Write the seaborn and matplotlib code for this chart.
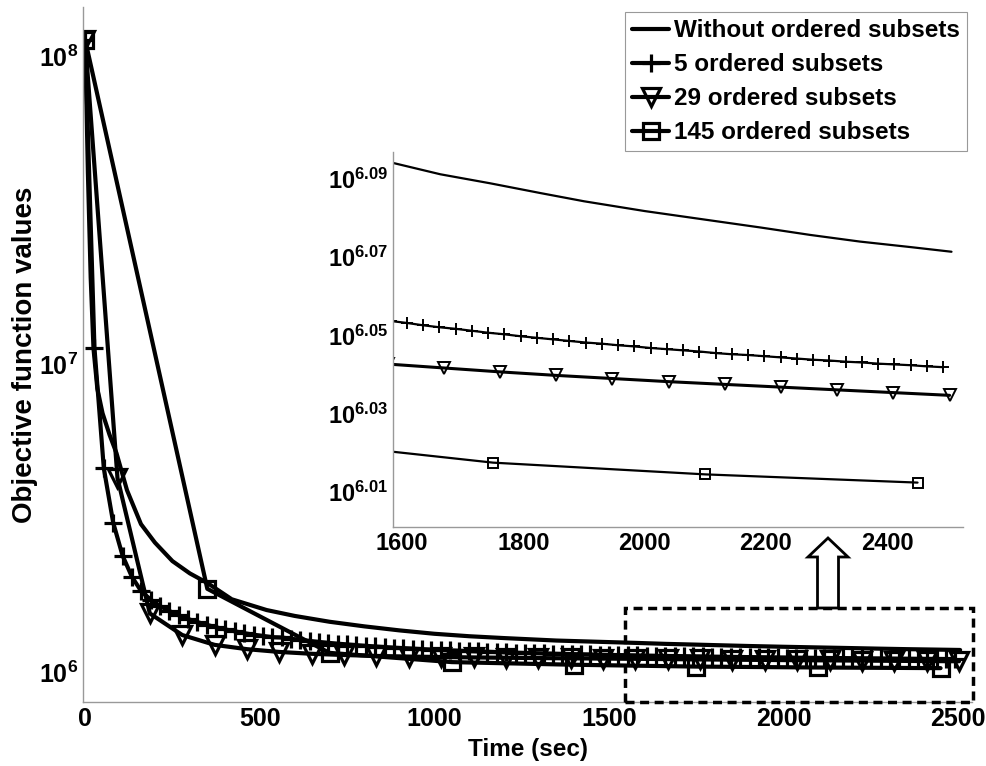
import numpy as np
import matplotlib
matplotlib.use("Agg")
import matplotlib.pyplot as plt
import seaborn as sns
from matplotlib.patches import Rectangle, Polygon
from matplotlib.ticker import FixedLocator, FuncFormatter, LogLocator, NullFormatter, NullLocator

# objective values are kept as log10 exponents

# without ordered subsets: smooth curve
t_none = [0, 8, 16, 24, 35, 50, 70, 90, 120, 160, 200, 250, 300, 350, 420, 520,
          600, 700, 800, 900, 1000, 1100, 1200, 1350, 1585, 1663, 1745, 1828,
          1900, 2000, 2100, 2191, 2273, 2355, 2438, 2506]
log_none = [8.053, 7.62, 7.28, 7.05, 6.92, 6.84, 6.77, 6.71, 6.59, 6.48, 6.42,
            6.36, 6.32, 6.289, 6.236, 6.201, 6.182, 6.163, 6.148, 6.135, 6.124,
            6.116, 6.110, 6.102, 6.0941, 6.0912, 6.0889, 6.0864, 6.0843, 6.0818,
            6.0796, 6.0776, 6.0757, 6.0740, 6.0726, 6.0714]

# 5 ordered subsets: one marker per iteration
sec_per_iter_5 = 26.8
log_5 = [8.053, 7.052, 6.661, 6.485, 6.378, 6.309, 6.262, 6.235, 6.214, 6.198,
         6.184, 6.172, 6.162, 6.153, 6.145, 6.138, 6.132, 6.126, 6.121, 6.117,
         6.113, 6.1119, 6.1078, 6.1041, 6.1007, 6.0975, 6.0945, 6.0918, 6.0894,
         6.0870, 6.0848, 6.0828, 6.0808, 6.0791, 6.0774, 6.0758, 6.0742, 6.0728,
         6.0715, 6.0702, 6.0690, 6.0678, 6.0667, 6.0657, 6.0647, 6.0637, 6.0628,
         6.0619, 6.0611, 6.0603, 6.0595, 6.0587, 6.0580, 6.0573, 6.0567, 6.0560,
         6.0554, 6.0548, 6.0543, 6.0537, 6.0532, 6.0526, 6.0521, 6.0517, 6.0512,
         6.0507, 6.0503, 6.0498, 6.0494, 6.0490, 6.0486, 6.0482, 6.0479, 6.0475,
         6.0472, 6.0468, 6.0465, 6.0462, 6.0459, 6.0455, 6.0452, 6.0450, 6.0447,
         6.0444, 6.0441, 6.0438, 6.0436, 6.0433, 6.0431, 6.0428, 6.0426, 6.0424,
         6.0421, 6.0419]

# 29 ordered subsets
sec_per_iter_29 = 92.7
log_29 = [8.053, 6.63, 6.19, 6.12, 6.088, 6.074, 6.065, 6.059, 6.055, 6.052,
          6.0500, 6.0485, 6.0472, 6.0461, 6.0451, 6.0442, 6.0434, 6.0427, 6.0417,
          6.0407, 6.0398, 6.0390, 6.0382, 6.0375, 6.0368, 6.0361, 6.0354, 6.0347]

# 145 ordered subsets
sec_per_iter_145 = 350.0
log_145 = [8.053, 6.27, 6.062, 6.032, 6.0234, 6.0175, 6.0145, 6.0124]

labels = ["Without ordered subsets", "5 ordered subsets",
          "29 ordered subsets", "145 ordered subsets"]


def series(log_vals, step=None, times=None):
    y = 10 ** np.array(log_vals)
    x = np.array(times) if times is not None else np.arange(len(y)) * step
    return x, y


data = [series(log_none, times=t_none),
        series(log_5, step=sec_per_iter_5),
        series(log_29, step=sec_per_iter_29),
        series(log_145, step=sec_per_iter_145)]
markers = [None, "+", "v", "s"]

sns.set_style("white")
plt.rcParams['font.family'] = ['Liberation Sans', 'DejaVu Sans']
plt.rcParams['font.weight'] = 'bold'
plt.rcParams['text.color'] = 'black'
plt.rcParams['axes.labelcolor'] = 'black'
plt.rcParams['xtick.color'] = 'black'
plt.rcParams['ytick.color'] = 'black'
plt.rcParams['mathtext.fontset'] = 'custom'
plt.rcParams['mathtext.rm'] = 'Liberation Sans:bold'
plt.rcParams['mathtext.bf'] = 'Liberation Sans:bold'
plt.rcParams['mathtext.default'] = 'bf'

fig = plt.figure(figsize=(9.87, 7.66), dpi=100)
ax = fig.add_axes([0.0841, 0.0836, 0.9007, 0.9073])
ins = fig.add_axes([0.3982, 0.312, 0.5775, 0.4896])


def draw(a, lw, ms, mew):
    for (x, y), m, lab in zip(data, markers, labels):
        kw = dict(x=x, y=y, ax=a, color="k", linewidth=lw, legend=False,
                  estimator=None, sort=False, label=lab)
        if m is not None:
            size = ms if m != "s" else ms * 0.85
            kw.update(marker=m, markersize=size, markeredgewidth=mew,
                      markeredgecolor="k", markerfacecolor="none")
        sns.lineplot(**kw)


draw(ax, 3.0, 13, 2.3)
draw(ins, 1.6, 8, 1.4)
# the 29 subsets curve is drawn a bit heavier in the zoom
ins.get_lines()[2].set_linewidth(2.2)


def style(a, size):
    for s in ["top", "right"]:
        a.spines[s].set_visible(False)
    for s in ["left", "bottom"]:
        a.spines[s].set_color("0.6")
        a.spines[s].set_linewidth(1.0)
    a.tick_params(which="both", direction="in", color="0.55", labelsize=size,
                  labelcolor="k", width=0.8)
    a.tick_params(which="major", length=7)
    a.tick_params(which="minor", length=4)
    a.set_xlabel("")
    a.set_ylabel("")


# main axes
ax.set_yscale("log")
ax.set_xlim(-6, 2540)
ax.set_ylim(10 ** 5.9026, 10 ** 8.159)
ax.set_xticks([0, 500, 1000, 1500, 2000, 2500])
ax.yaxis.set_major_locator(LogLocator(base=10))
ax.yaxis.set_minor_locator(LogLocator(base=10, subs=np.arange(2, 10)))
ax.yaxis.set_minor_formatter(NullFormatter())
ax.yaxis.set_major_formatter(FuncFormatter(
    lambda v, p: "$10^{%d}$" % int(round(np.log10(v)))))
style(ax, 18)
ax.set_xlabel("Time (sec)", fontsize=17.5, fontweight="bold", labelpad=5,
              color="k")
ax.set_ylabel("Objective function values", fontsize=20, fontweight="bold",
              color="k")
ax.yaxis.set_label_coords(-0.051, 0.5)

# zoomed axes
ins.set_yscale("log")
ins.set_xlim(1585, 2525)
ins.set_ylim(10 ** 6.00105, 10 ** 6.0969)
ins.set_xticks([1600, 1800, 2000, 2200, 2400])
ins.yaxis.set_major_locator(FixedLocator(10 ** np.array([6.01, 6.03, 6.05, 6.07, 6.09])))
ins.yaxis.set_minor_locator(NullLocator())
ins.yaxis.set_major_formatter(FuncFormatter(
    lambda v, p: "$10^{%.2f}$" % np.log10(v)))
ins.set_facecolor("white")
style(ins, 17)

# dashed box around the zoomed range
y0 = 10 ** 5.9026
box = Rectangle((1546, y0), 2543 - 1546, 10 ** 6.208 - y0, fill=False,
                ec="k", lw=2.5, ls=(0, (2.6, 1.6)), clip_on=False, zorder=5)
ax.add_patch(box)

# hollow arrow pointing at the zoom (pixel geometry of the figure)
W, H = 987.0, 766.0
cx, tip, head, base = 828, 538, 557, 608
arrow_px = [(cx, tip), (cx + 20, head), (cx + 10.5, head), (cx + 10.5, base),
            (cx - 10.5, base), (cx - 10.5, head), (cx - 20, head)]
fig.add_artist(Polygon([(x / W, 1 - y / H) for x, y in arrow_px], closed=True,
                       transform=fig.transFigure, fc="white", ec="k", lw=2.0,
                       zorder=6))

handles, labs = ax.get_legend_handles_labels()
leg = fig.legend(handles, labs, loc="upper left",
                 bbox_to_anchor=(625 / W, 1 - 12 / H), fontsize=17.5,
                 frameon=True, fancybox=False, framealpha=1, edgecolor="0.6",
                 handlelength=1.5, handletextpad=0.2, borderpad=0.3,
                 labelspacing=0.45, borderaxespad=0)
leg.get_frame().set_linewidth(0.8)
for t in leg.get_texts():
    t.set_fontweight("bold")
    t.set_color("k")

fig.savefig("out.png", dpi=100)
